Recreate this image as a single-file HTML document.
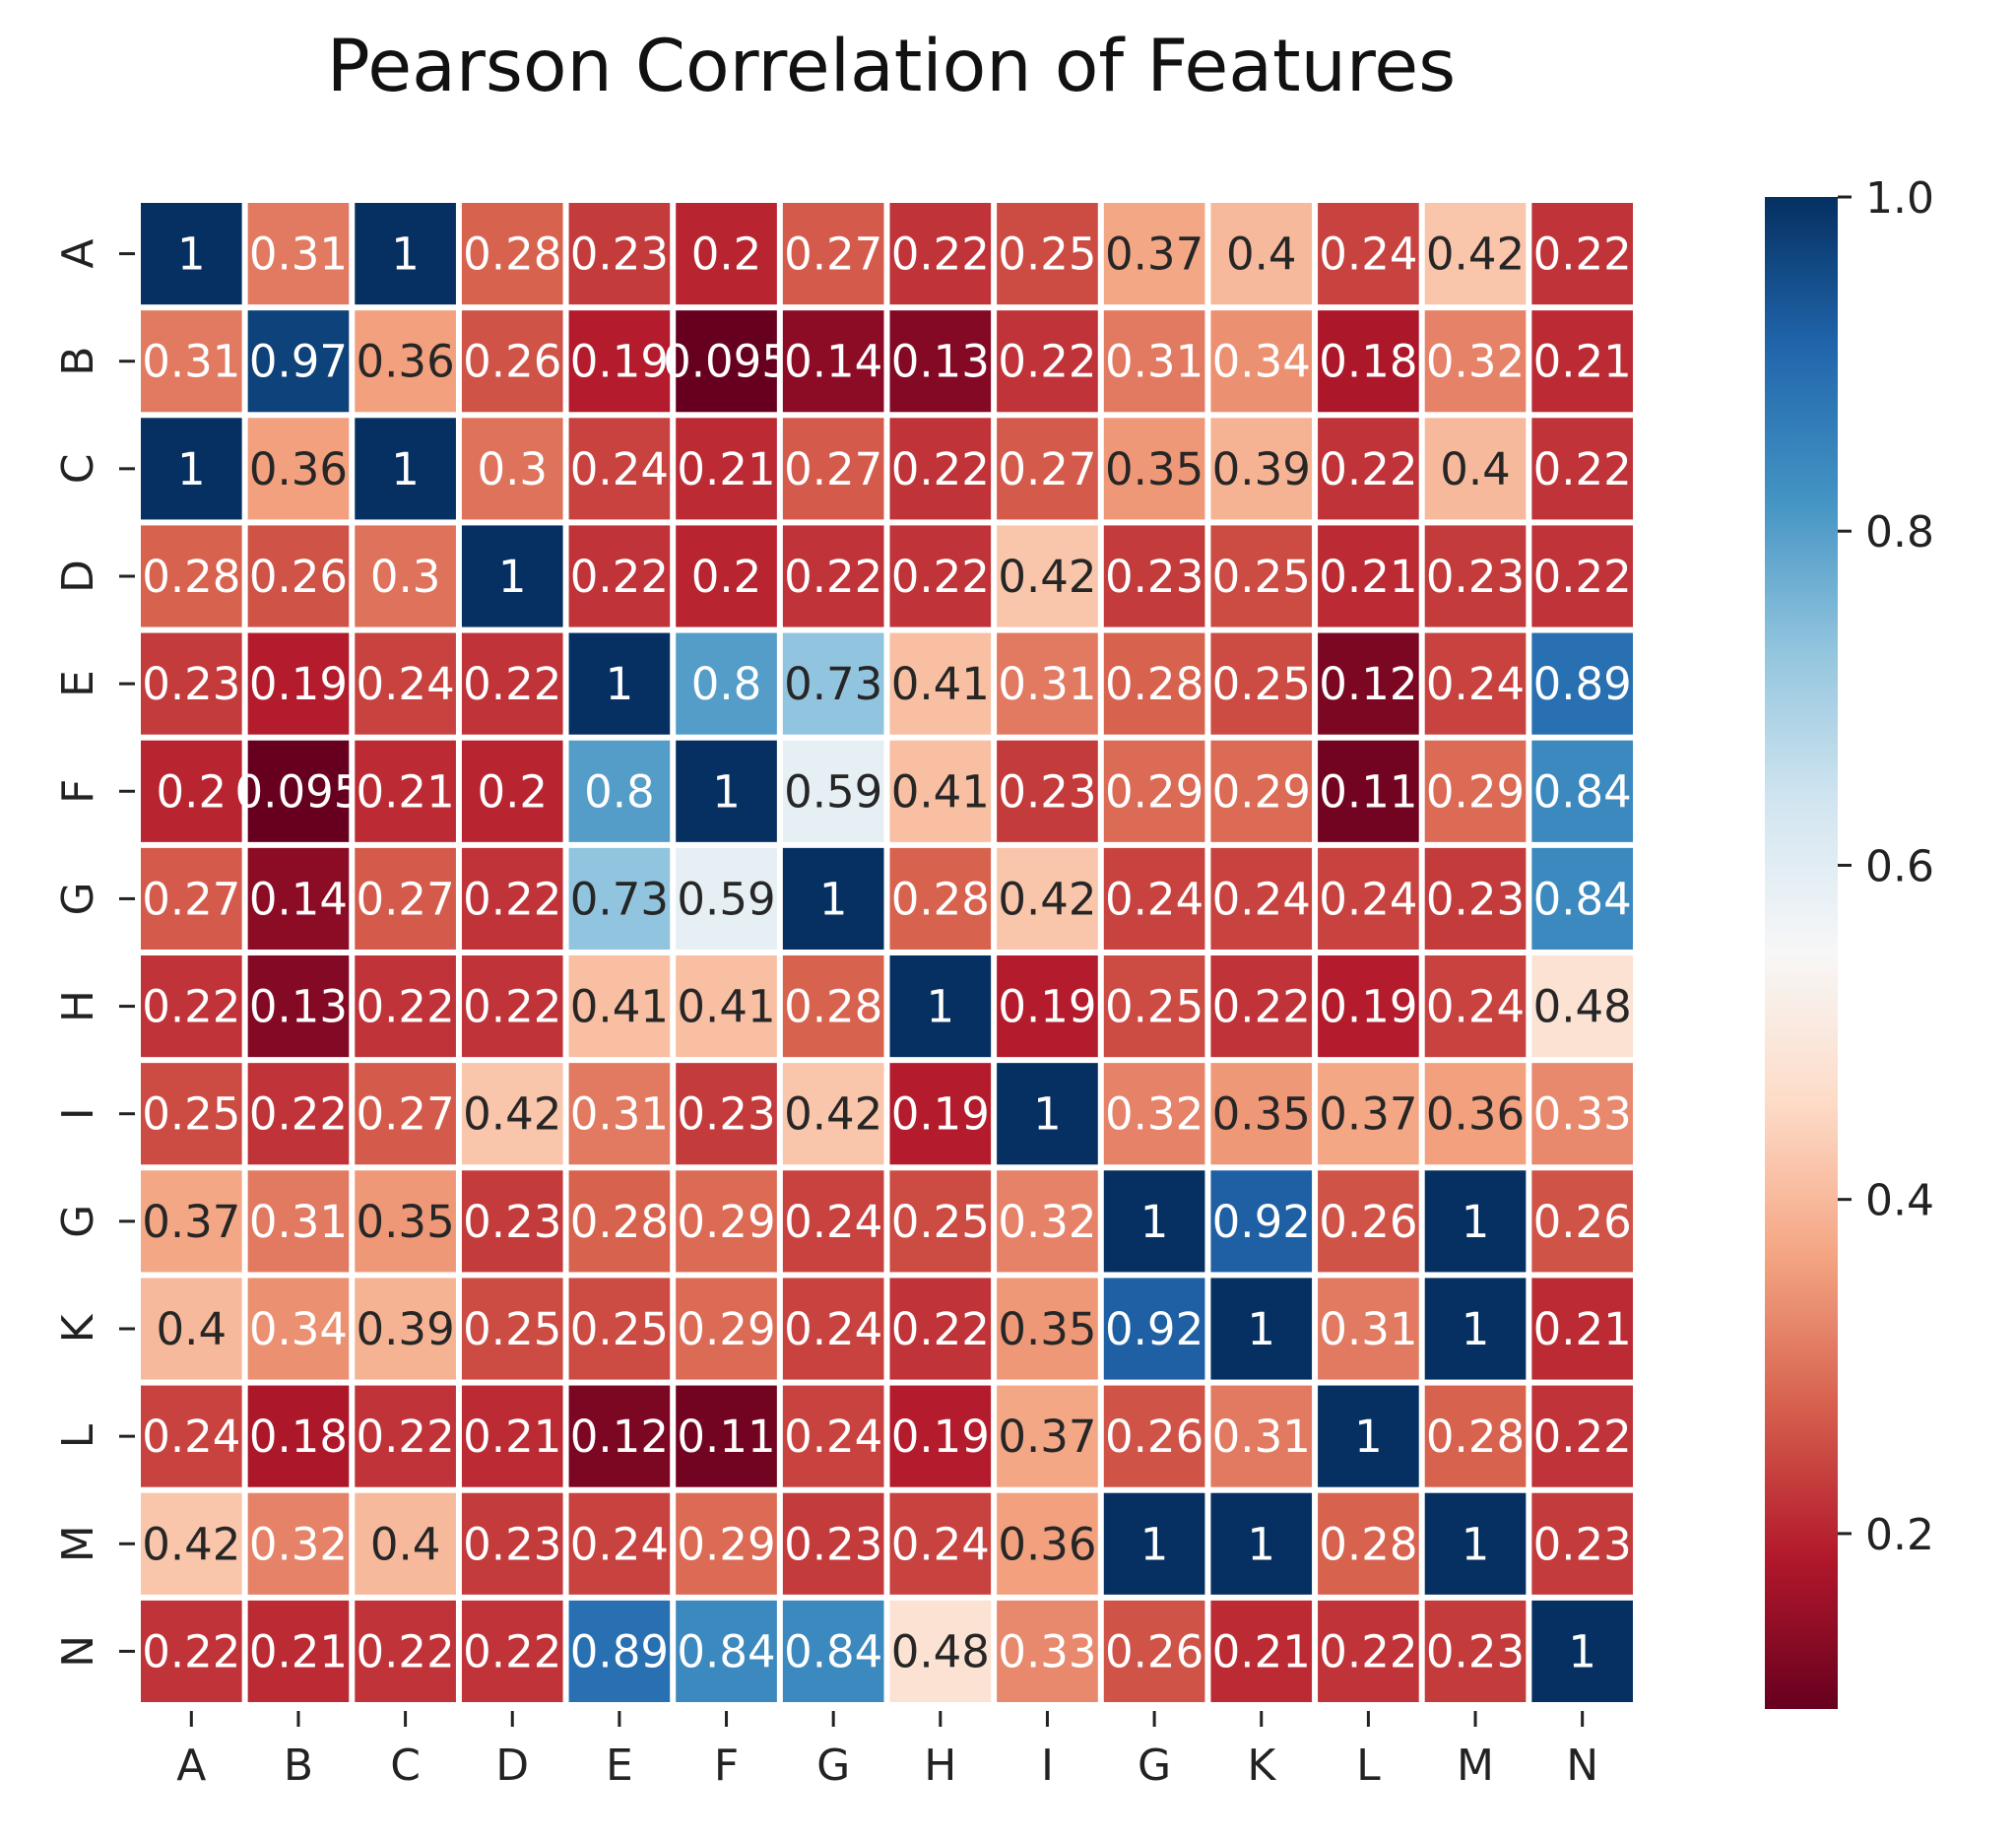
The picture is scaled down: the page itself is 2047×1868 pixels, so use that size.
<!DOCTYPE html>
<html><head><meta charset="utf-8"><style>
html,body{margin:0;padding:0;background:#fff}
svg{display:block}
text{font-family:"DejaVu Sans","Liberation Sans",sans-serif}
</style></head><body>
<svg id="chart" width="2047" height="1868" viewBox="0 0 2047 1868" xmlns="http://www.w3.org/2000/svg">
<defs><linearGradient id="cbgrad" x1="0" y1="1" x2="0" y2="0"></linearGradient></defs>
<text x="905" y="92" font-size="73" text-anchor="middle" fill="#111">Pearson Correlation of Features</text>
<g id="cells"></g><g id="axes"></g><g id="cbar"></g>
</svg>
<script>
const rowLabels = ["A","B","C","D","E","F","G","H","I","G","K","L","M","N"];
const colLabels = ["A","B","C","D","E","F","G","H","I","G","K","L","M","N"];
const rowA = [1,.31,1,.28,.23,.2,.27,.22,.25,.37,.4,.24,.42,.22];
const rowB = [.31,.97,.36,.26,.19,.095,.14,.13,.22,.31,.34,.18,.32,.21];
const rowC = [1,.36,1,.3,.24,.21,.27,.22,.27,.35,.39,.22,.4,.22];
const rowD = [.28,.26,.3,1,.22,.2,.22,.22,.42,.23,.25,.21,.23,.22];
const rowE = [.23,.19,.24,.22,1,.8,.73,.41,.31,.28,.25,.12,.24,.89];
const rowF = [.2,.095,.21,.2,.8,1,.59,.41,.23,.29,.29,.11,.29,.84];
const rowG = [.27,.14,.27,.22,.73,.59,1,.28,.42,.24,.24,.24,.23,.84];
const rowH = [.22,.13,.22,.22,.41,.41,.28,1,.19,.25,.22,.19,.24,.48];
const rowI = [.25,.22,.27,.42,.31,.23,.42,.19,1,.32,.35,.37,.36,.33];
const rowG2 = [.37,.31,.35,.23,.28,.29,.24,.25,.32,1,.92,.26,1,.26];
const rowK = [.4,.34,.39,.25,.25,.29,.24,.22,.35,.92,1,.31,1,.21];
const rowL = [.24,.18,.22,.21,.12,.11,.24,.19,.37,.26,.31,1,.28,.22];
const rowM = [.42,.32,.4,.23,.24,.29,.23,.24,.36,1,1,.28,1,.23];
const rowN = [.22,.21,.22,.22,.89,.84,.84,.48,.33,.26,.21,.22,.23,1];
const matrix = [rowA,rowB,rowC,rowD,rowE,rowF,rowG,rowH,rowI,rowG2,rowK,rowL,rowM,rowN];
const cbTicks = [0.2,0.4,0.6,0.8,1.0];

const NS="http://www.w3.org/2000/svg";
const X0=140,X1=1661,Y0=203,Y1=1731;
const all=matrix.flat();
const vmin=Math.min(...all), vmax=Math.max(...all);
const cw=(X1-X0)/colLabels.length, ch=(Y1-Y0)/rowLabels.length;
const xPos=i=>X0+i*cw, yPos=j=>Y0+j*ch;
const CB={x:1792,w:74,top:200,bot:1735};
const cbY=v=>CB.bot-(v-vmin)/(vmax-vmin)*(CB.bot-CB.top);
const stops=["#67001f","#b2182b","#d6604d","#f4a582","#fddbc7","#f7f7f7","#d1e5f0","#92c5de","#4393c3","#2166ac","#053061"].map(h=>[1,3,5].map(k=>parseInt(h.substr(k,2),16)));
function cmap(t){t=Math.max(0,Math.min(1,t));const p=t*10,i=Math.min(9,Math.floor(p)),f=p-i;return stops[i].map((c,k)=>c+(stops[i+1][k]-c)*f);}
const rgb=c=>`rgb(${c.map(Math.round).join(",")})`;
function lum(c){const l=c.map(v=>{v/=255;return v<=0.03928?v/12.92:Math.pow((v+0.055)/1.055,2.4)});return .2126*l[0]+.7152*l[1]+.0722*l[2];}
function mk(tag,attrs,parent,txt){const e=document.createElementNS(NS,tag);for(const k in attrs)e.setAttribute(k,attrs[k]);if(txt!==undefined)e.textContent=txt;parent.appendChild(e);return e;}
const cells=document.getElementById('cells'), axes=document.getElementById('axes'), cbar=document.getElementById('cbar');
matrix.forEach((row,j)=>row.forEach((v,i)=>{
  const c=cmap((v-vmin)/(vmax-vmin));
  const r=mk('rect',{x:xPos(i)+3,y:yPos(j)+3,width:cw-6,height:ch-6,fill:rgb(c)},cells);
  
  
  const t=mk('text',{x:xPos(i)+cw/2,y:yPos(j)+ch/2+16,'font-size':45,'text-anchor':'middle',fill:lum(c)>0.408?'#262626':'#ffffff'},cells,String(parseFloat(v.toPrecision(2))));
  
  
}));
rowLabels.forEach((l,j)=>{
  const cy=yPos(j)+ch/2;
  const tk=mk('line',{x1:121,x2:137,y1:cy,y2:cy,stroke:'#222','stroke-width':3},axes);
  
  
  const t=mk('text',{x:0,y:0,'font-size':44,'text-anchor':'middle',fill:'#222',transform:`translate(94,${cy}) rotate(-90)`},axes,l);
  
  
});
colLabels.forEach((l,i)=>{
  const cx=xPos(i)+cw/2;
  const tk=mk('line',{x1:cx,x2:cx,y1:1737,y2:1753,stroke:'#222','stroke-width':3},axes);
  
  
  const t=mk('text',{x:cx,y:1807,'font-size':44,'text-anchor':'middle',fill:'#222'},axes,l);
  
  
});
const g=document.getElementById('cbgrad');
for(let k=0;k<=20;k++){mk('stop',{offset:k/20,'stop-color':rgb(cmap(k/20))},g);}
const cb=mk('rect',{x:CB.x,y:CB.top,width:CB.w,height:CB.bot-CB.top,fill:'url(#cbgrad)'},cbar);


cbTicks.forEach(v=>{
  const y=cbY(v);
  const tk=mk('line',{x1:CB.x+CB.w,x2:CB.x+CB.w+14,y1:y,y2:y,stroke:'#222','stroke-width':3},cbar);
  
  
  const t=mk('text',{x:CB.x+CB.w+28,y:y+16,'font-size':44,fill:'#222'},cbar,v.toFixed(1));
  
  
});
</script>
</body></html>
